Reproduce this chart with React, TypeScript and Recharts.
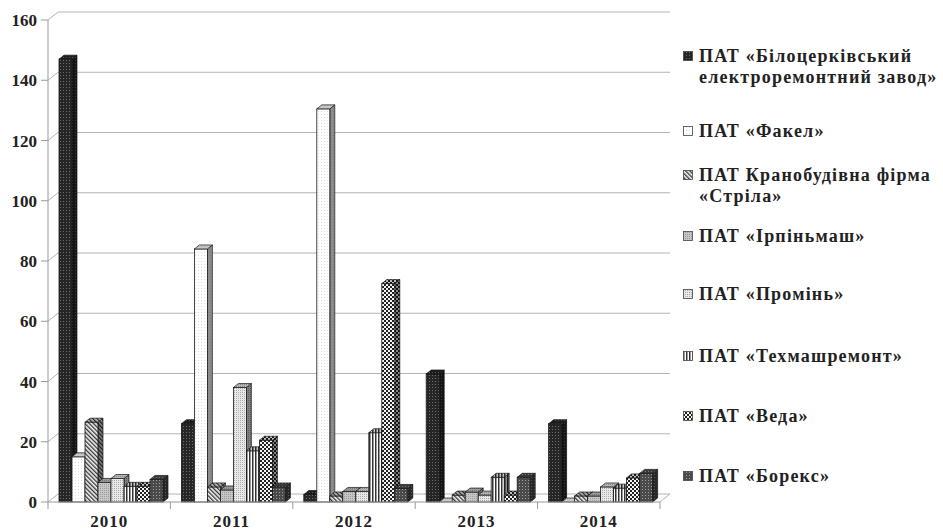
import { BarChart, Bar, XAxis, YAxis, CartesianGrid } from 'recharts'

// values (front edge of each column)
const years = ['2010', '2011', '2012', '2013', '2014']
const bilotserkva = [147, 26, 2.5, 42.5, 26]
const fakel = [15, 84, 130.5, 0, 0]
const strila = [26.5, 5, 2, 2.3, 2]
const irpinmash = [6.5, 4, 3.5, 3.3, 2]
const promin = [7.8, 38, 3.5, 2.3, 5]
const tekhmash = [5.2, 17, 23, 8.2, 4.6]
const veda = [5.2, 20.5, 72.5, 2.3, 8]
const boreks = [7.5, 5, 4.5, 8.2, 9.5]
const yTicks = [0, 20, 40, 60, 80, 100, 120, 140, 160]

const seriesNames = [
  'ПАТ «Білоцерківський\nелектроремонтний завод»',
  'ПАТ «Факел»',
  'ПАТ Кранобудівна фірма\n«Стріла»',
  'ПАТ «Ірпіньмаш»',
  'ПАТ «Промінь»',
  'ПАТ «Техмашремонт»',
  'ПАТ «Веда»',
  'ПАТ «Борекс»',
]
const seriesValues = [bilotserkva, fakel, strila, irpinmash, promin, tekhmash, veda, boreks]

// legend rows are not evenly spaced in the original
const legendTops = [46, 121, 165, 226, 284, 346, 406, 466]

const W = 943
const H = 531
const PLOT_LEFT = 48
const PLOT_RIGHT = 660
const PLOT_BOTTOM = 502
const DX = 10
const DY = 8
const BAND = (PLOT_RIGHT - PLOT_LEFT) / years.length
const FONT = "'Liberation Serif', 'Times New Roman', serif"
const GRID = '#b4b4b4'

const data = years.map((year, i) => {
  const row: any = { year }
  seriesValues.forEach((vals, s) => {
    row['s' + s] = vals[i]
  })
  return row
})

function Bar3D(props: any) {
  const { x, y, width, height, fill } = props
  const bx = x + 2
  const d = 5
  const e = 4
  const h = Math.max(height || 0, 0)
  const top = `${bx},${y} ${bx + d},${y - e} ${bx + width + d},${y - e} ${bx + width},${y}`
  const side = `${bx + width},${y} ${bx + width + d},${y - e} ${bx + width + d},${y + h - e} ${bx + width},${y + h}`
  return (
    <g>
      {h > 0 && (
        <>
          <polygon points={side} fill={fill} />
          <polygon points={side} fill="#000" fillOpacity={0.45} stroke="#1a1a1a" strokeWidth={0.7} />
          <rect x={bx} y={y} width={width} height={h} fill={fill} stroke="#1a1a1a" strokeWidth={0.8} />
        </>
      )}
      <polygon points={top} fill={fill} />
      <polygon points={top} fill="#000" fillOpacity={0.22} stroke="#1a1a1a" strokeWidth={0.7} />
    </g>
  )
}

const gridLine = (props: any) => {
  const { x1, x2, y1 } = props
  const floor = Math.abs(y1 - PLOT_BOTTOM) < 1
  return (
    <g key={'g' + y1}>
      <line x1={x1} y1={y1} x2={x1 + DX} y2={y1 - DY} stroke={GRID} />
      <line x1={x1 + DX} y1={y1 - DY} x2={x2 + DX} y2={y1 - DY} stroke={GRID} />
      {floor && <line x1={x2} y1={y1} x2={x2 + DX} y2={y1 - DY} stroke={GRID} />}
    </g>
  )
}

const YearTick = (props: any) => {
  const { x, payload, index } = props
  return (
    <g>
      <line x1={x - BAND / 2} y1={PLOT_BOTTOM} x2={x - BAND / 2} y2={PLOT_BOTTOM + 7} stroke="#999" />
      {index === years.length - 1 && (
        <line x1={x + BAND / 2} y1={PLOT_BOTTOM} x2={x + BAND / 2} y2={PLOT_BOTTOM + 7} stroke="#999" />
      )}
      <text
        x={x}
        y={PLOT_BOTTOM + 25}
        textAnchor="middle"
        fontFamily={FONT}
        fontWeight="bold"
        fontSize={17}
        letterSpacing={1}
        fill="#222"
      >
        {payload.value}
      </text>
    </g>
  )
}

function Patterns() {
  return (
    <defs>
      <pattern id="pat0" width="3" height="3" patternUnits="userSpaceOnUse">
        <rect width="3" height="3" fill="#262626" />
        <rect width="1" height="1" fill="#6e6e6e" />
      </pattern>
      <pattern id="pat1" width="3" height="3" patternUnits="userSpaceOnUse">
        <rect width="3" height="3" fill="#ffffff" />
        <rect width="1" height="1" fill="#dcdcdc" />
      </pattern>
      <pattern id="pat2" width="3" height="3" patternUnits="userSpaceOnUse" patternTransform="rotate(-45)">
        <rect width="3" height="3" fill="#f2f2f2" />
        <rect width="1.3" height="3" fill="#333" />
      </pattern>
      <pattern id="pat3" width="2" height="2" patternUnits="userSpaceOnUse">
        <rect width="2" height="2" fill="#c6c6c6" />
        <rect width="1" height="1" fill="#9c9c9c" />
      </pattern>
      <pattern id="pat4" width="2" height="2" patternUnits="userSpaceOnUse">
        <rect width="2" height="2" fill="#e8e8e8" />
        <rect width="1" height="1" fill="#acacac" />
      </pattern>
      <pattern id="pat5" width="3" height="3" patternUnits="userSpaceOnUse">
        <rect width="3" height="3" fill="#ffffff" />
        <rect width="1.5" height="3" fill="#333" />
      </pattern>
      <pattern id="pat6" width="4" height="4" patternUnits="userSpaceOnUse">
        <rect width="4" height="4" fill="#f4f4f4" />
        <rect width="2" height="2" fill="#222" />
        <rect x="2" y="2" width="2" height="2" fill="#222" />
      </pattern>
      <pattern id="pat7" width="3" height="3" patternUnits="userSpaceOnUse">
        <rect width="3" height="3" fill="#4a4a4a" />
        <rect width="1" height="1" fill="#a0a0a0" />
      </pattern>
    </defs>
  )
}

export default function App() {
  return (
    <div style={{ position: 'absolute', left: 0, top: 0, width: W, height: H, background: '#fff' }}>
      <BarChart
        width={W}
        height={H}
        data={data}
        margin={{ top: 20, right: W - PLOT_RIGHT, bottom: 0, left: 0 }}
        barCategoryGap={9}
        barGap={0}
      >
        <Patterns />
        <CartesianGrid vertical={false} horizontal={gridLine} />
        <XAxis
          dataKey="year"
          height={29}
          interval={0}
          axisLine={{ stroke: '#999' }}
          tickLine={false}
          tick={YearTick}
        />
        <YAxis
          width={PLOT_LEFT}
          domain={[0, 160]}
          ticks={yTicks}
          interval={0}
          axisLine={{ stroke: '#999' }}
          tickLine={{ stroke: '#999' }}
          tickSize={7}
          tickMargin={4}
          tick={{ fontFamily: FONT, fontWeight: 'bold', fontSize: 17, fill: '#222' }}
        />
        {seriesNames.map((name, s) => (
          <Bar
            key={s}
            dataKey={'s' + s}
            name={name}
            fill={`url(#pat${s})`}
            shape={Bar3D}
            isAnimationActive={false}
          />
        ))}
      </BarChart>
      {seriesNames.map((name, s) => (
        <div
          key={s}
          style={{
            position: 'absolute',
            left: 683,
            top: legendTops[s],
            fontFamily: FONT,
            fontWeight: 'bold',
            fontSize: 18,
            lineHeight: '21px',
            letterSpacing: 1.2,
            color: '#222',
            whiteSpace: 'pre',
            display: 'flex',
          }}
        >
          <svg width={16} height={21} style={{ flex: 'none' }}>
            <rect x={0.5} y={5.5} width={9} height={9} fill={`url(#pat${s})`} stroke="#444" strokeWidth={0.8} />
          </svg>
          <span>{name}</span>
        </div>
      ))}
    </div>
  )
}
